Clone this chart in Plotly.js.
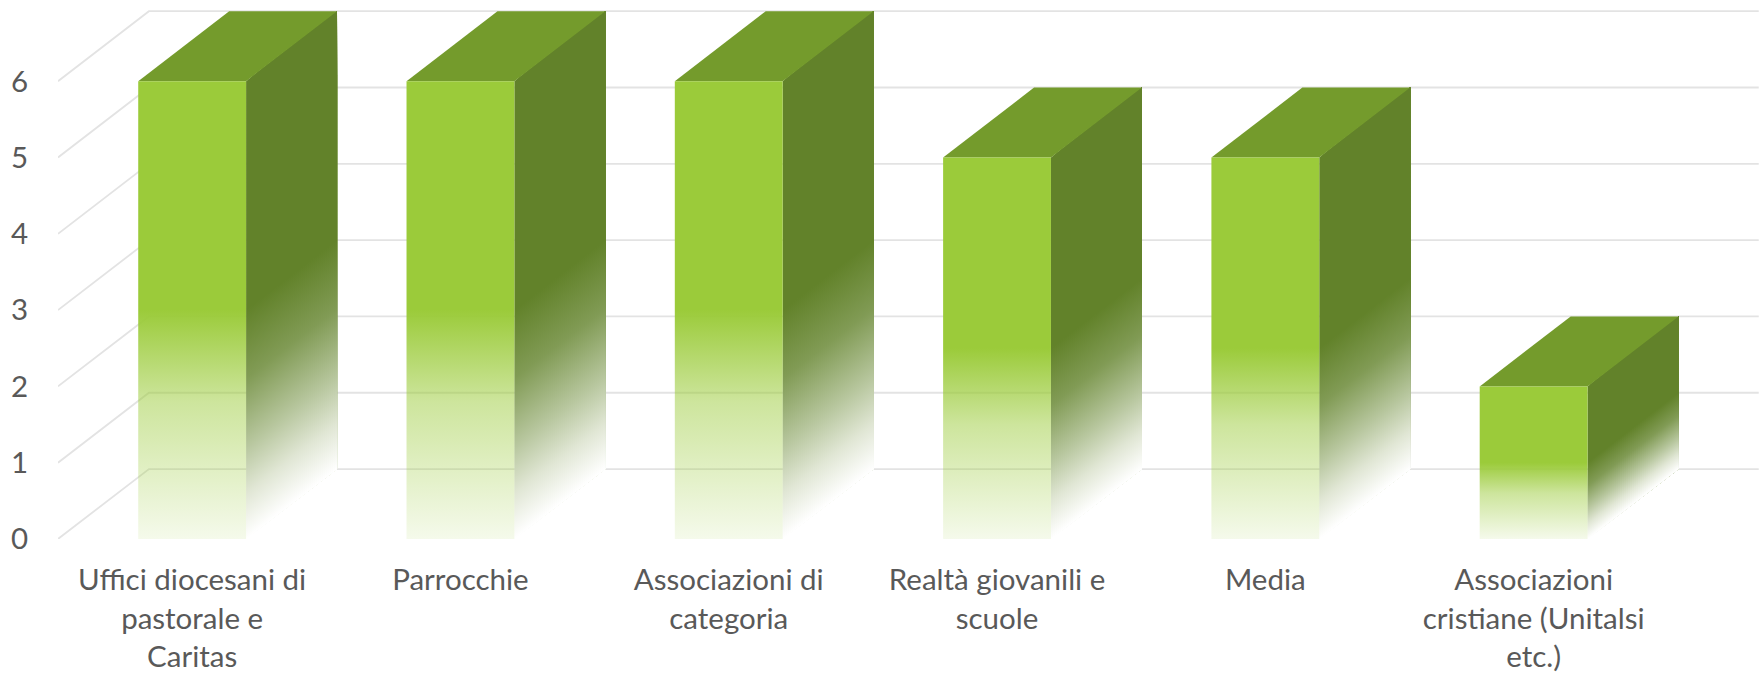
<!DOCTYPE html>
<html>
<head>
<meta charset="utf-8">
<script src="https://cdn.plot.ly/plotly-3.0.1.min.js"></script>
<style>html,body{margin:0;padding:0;background:#fff;}</style>
</head>
<body>
<div id="chart" style="width:1759px;height:674px;"></div>
<script>
// ---- data ----
const categories = [
  "Uffici diocesani di<br>pastorale e<br>Caritas",
  "Parrocchie",
  "Associazioni di<br>categoria",
  "Realtà giovanili e<br>scuole",
  "Media",
  "Associazioni<br>cristiane (Unitalsi<br>etc.)"
];
const values = [6, 6, 6, 5, 5, 2];
const yTickValues = [0, 1, 2, 3, 4, 5, 6];

// ---- 3D look (oblique projection, in axis units) ----
const BAR_W = 0.402;   // front face width
const DX = 0.339;      // depth offset along x
const DY = 0.917;      // depth offset along y
const N_STRIPS = 45;

const FRONT = '155,203,58';
const SIDE = [98, 130, 42];
const TOP = '#749b2c';
const TEXT = '#595959';
const FONT = 'Lato, "Open Sans", sans-serif';
const FONT_SIZE = 29.5;

function mixWhite(k) {
  const c = SIDE.map(v => Math.round(255 - k * (255 - v)));
  return 'rgb(' + c.join(',') + ')';
}
const sideScale = [
  [0, mixWhite(0)], [0.1, mixWhite(0.2)], [0.2, mixWhite(0.45)],
  [0.35, mixWhite(0.8)], [0.5, mixWhite(1)], [1, mixWhite(1)]
];
const frontScale = [
  [0, 'rgba(' + FRONT + ',0.10)'], [0.15, 'rgba(' + FRONT + ',0.30)'],
  [0.3, 'rgba(' + FRONT + ',0.50)'], [0.42, 'rgba(' + FRONT + ',0.80)'],
  [0.5, 'rgba(' + FRONT + ',1)'], [1, 'rgba(' + FRONT + ',1)']
];

const nCat = categories.length;
const traces = [];

// grid: left wall diagonals + back wall horizontals
const gx = [], gy = [];
yTickValues.forEach(v => {
  gx.push(-0.5, -0.5 + DX, nCat - 0.5 + DX, null);
  gy.push(v, v + DY, v + DY, null);
});
traces.push({
  type: 'scatter', mode: 'lines', x: gx, y: gy,
  line: {color: '#e3e3e3', width: 1.8},
  hoverinfo: 'skip', showlegend: false
});

values.forEach((v, i) => {
  const xl = i - BAR_W / 2, xr = i + BAR_W / 2;
  // side face, drawn as overlapping strips so the fade follows the slanted floor
  for (let k = 0; k < N_STRIPS; k++) {
    const x0 = xr + DX * k / N_STRIPS;
    const f0 = DY * k / N_STRIPS;
    const fc = DY * (k + 0.5) / N_STRIPS;
    traces.push({
      type: 'scatter', mode: 'lines', fill: 'toself',
      x: [x0, xr + DX, xr + DX, x0, x0],
      y: [f0, DY, v + DY, v + f0, f0],
      line: {width: 0},
      fillgradient: {type: 'vertical', start: fc, stop: fc + v, colorscale: sideScale},
      hoverinfo: 'skip', showlegend: false
    });
  }
  // top face
  traces.push({
    type: 'scatter', mode: 'lines', fill: 'toself',
    x: [xl, xr, xr + DX, xl + DX, xl],
    y: [v, v, v + DY, v + DY, v],
    line: {width: 0}, fillcolor: TOP,
    hoverinfo: 'skip', showlegend: false
  });
  // front face
  traces.push({
    type: 'scatter', mode: 'lines', fill: 'toself',
    x: [xl, xr, xr, xl, xl],
    y: [0, 0, v, v, 0],
    line: {width: 0},
    fillgradient: {type: 'vertical', start: 0, stop: v, colorscale: frontScale},
    hoverinfo: 'skip', showlegend: false
  });
});

const layout = {
  width: 1759, height: 674,
  margin: {l: 58, r: 0, t: 0, b: 135},
  paper_bgcolor: '#ffffff', plot_bgcolor: '#ffffff',
  showlegend: false,
  font: {family: FONT, color: TEXT},
  xaxis: {
    range: [-0.5, nCat - 0.5 + DX + 0.001],
    tickvals: categories.map((c, i) => i),
    ticktext: categories,
    showgrid: false, zeroline: false, showline: false,
    ticks: 'outside', ticklen: 15, tickcolor: 'rgba(0,0,0,0)',
    tickfont: {family: FONT, size: FONT_SIZE, color: TEXT},
    fixedrange: true
  },
  yaxis: {
    range: [0, 7.064],
    tickvals: yTickValues,
    ticktext: yTickValues.map(String),
    showgrid: false, zeroline: false, showline: false,
    ticks: 'outside', ticklen: 23, tickcolor: 'rgba(0,0,0,0)',
    tickfont: {family: FONT, size: FONT_SIZE, color: TEXT},
    fixedrange: true
  }
};

Plotly.newPlot('chart', traces, layout, {staticPlot: true, displayModeBar: false});
</script>
</body>
</html>
